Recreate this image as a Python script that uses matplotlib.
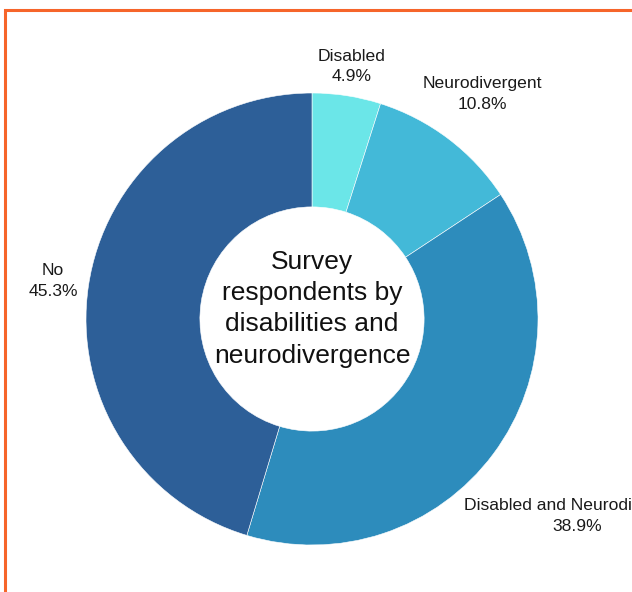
import numpy as np
import matplotlib
matplotlib.use("Agg")
import matplotlib.pyplot as plt
from matplotlib.patches import Rectangle

plt.rcParams['font.family'] = ['Liberation Sans', 'DejaVu Sans']

categories = ["Disabled", "Neurodivergent", "Disabled and Neurodivergent", "No"]
values = [4.9, 10.8, 38.9, 45.3]
colors = ["#6be6e8", "#43b9d8", "#2d8cbc", "#2d5f98"]
centre_text = "Survey\nrespondents by\ndisabilities and\nneurodivergence"

W, H = 632, 592
cx, cy, R = 312, 319, 226  # pie centre / radius in pixels

fig = plt.figure(figsize=(W / 100, H / 100), dpi=100)
ax = fig.add_axes([0, 0, 1, 1])

wedges, _ = ax.pie(values, colors=colors, startangle=90, counterclock=False,
                   radius=1.0, wedgeprops=dict(width=0.504, edgecolor='white', linewidth=0.4))

# pie() resets the limits, so set them afterwards
ax.set_xlim(-cx / R, (W - cx) / R)
ax.set_ylim(-(H - cy) / R, cy / R)
ax.set_aspect('equal')
ax.axis('off')

ax.text(0, 0.045, centre_text, ha='center', va='center', fontsize=19,
        color='#111111', linespacing=1.38)

# outside labels: centre on the mid-angle ray, nearest corner just clear of the ring
fig.canvas.draw()
renderer = fig.canvas.get_renderer()
inv = ax.transData.inverted()
gap = 1.04
for w, name, val in zip(wedges, categories, values):
    ang = np.deg2rad((w.theta1 + w.theta2) / 2)
    t = ax.text(0, 0, f"{name}\n{val}%", ha='center', va='center', fontsize=12.6,
                color='#1a1a1a', linespacing=1.45)
    bb = t.get_window_extent(renderer)
    p0 = inv.transform((bb.x0, bb.y0))
    p1 = inv.transform((bb.x1, bb.y1))
    hw, hh = (p1[0] - p0[0]) / 2, (p1[1] - p0[1]) / 2
    lo, hi = 0.5, 3.0
    for _ in range(60):
        d = (lo + hi) / 2
        x, y = d * np.cos(ang), d * np.sin(ang)
        nx = np.clip(0, x - hw, x + hw)
        ny = np.clip(0, y - hh, y + hh)
        if np.hypot(nx, ny) < gap:
            lo = d
        else:
            hi = d
    t.set_position((d * np.cos(ang), d * np.sin(ang)))

# orange frame, partly outside the canvas
fig.patches.append(Rectangle((4.5 / W, -0.1), 1.2, (H - 10) / H + 0.1,
                             transform=fig.transFigure, fill=False,
                             edgecolor='#f6652a', linewidth=2.2))

fig.savefig("out.png", dpi=100)
